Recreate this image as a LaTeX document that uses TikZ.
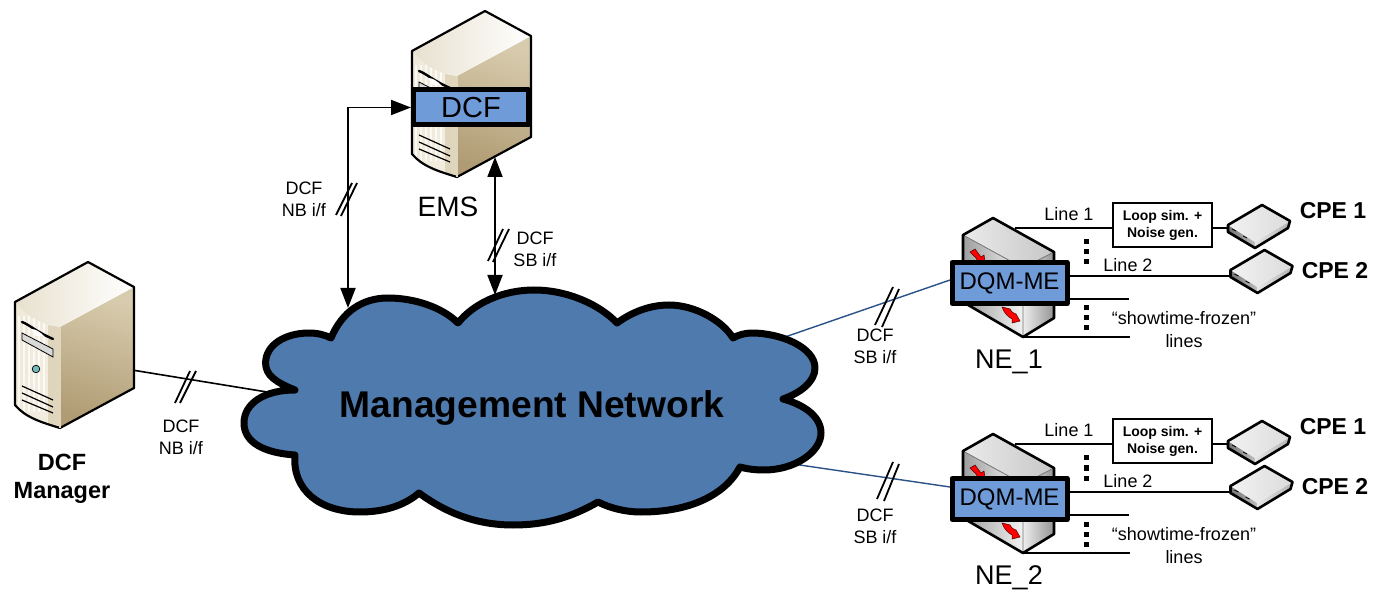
\documentclass[tikz,border=0pt]{standalone}
\usepackage{fontspec}
\setmainfont{Liberation Sans}
\usetikzlibrary{arrows.meta}
\definecolor{cloudblue}{HTML}{4F7AAE}
\definecolor{boxblue}{HTML}{6F9BD9}
\definecolor{linkblue}{HTML}{2B5288}
\definecolor{tanA}{HTML}{D8CCAE}
\definecolor{tanB}{HTML}{EFE9D9}
\definecolor{tanC}{HTML}{B09C74}
\definecolor{tanD}{HTML}{F3EEE2}
\tikzset{
  x=1pt,y=-1pt,
  outline/.style={draw=black,line width=2.2pt,line join=round},
  link/.style={draw=black,line width=1.6pt},
  bluelink/.style={draw=linkblue,line width=1.4pt},
  dbl/.style={draw=black,line width=1.8pt,arrows={Triangle[length=20pt,width=15pt]-Triangle[length=20pt,width=15pt]}},
  slash/.style={draw=black,line width=1.8pt},
  dcfbox/.style={draw=black,fill=boxblue,line width=5pt,line join=round,inner sep=0pt,anchor=center},
  lbl/.style={inner sep=0pt,align=center,font=\fontsize{18}{22}\selectfont},
  bigl/.style={inner sep=0pt,align=center,font=\fontsize{28}{30}\selectfont},
  nel/.style={inner sep=0pt,font=\fontsize{27}{30}\selectfont},
  cpel/.style={inner sep=0pt,font=\bfseries\fontsize{23}{26}\selectfont},
  pics/serverbox/.style={code={
    % right face
    \path[left color=tanA,middle color=tanB,right color=tanC,shading angle=-18] (60,327)--(134,287)--(134,388)--(60,428)--cycle;
    % left face
    \path[left color=tanB,right color=tanD] (15,302) .. controls (30,320) and (45,325) .. (60,327)--(60,428) .. controls (40,422) and (25,417) .. (15,405)--cycle;
    \foreach \sx in {19,24,29,34,39,44}{\draw[white,line width=1.2pt,opacity=.75] (\sx,316)--(\sx,412);}
    \path[fill=tanA,opacity=.7] (48,325)--(60,327)--(60,428)--(48,424)--cycle;
    % top face
    \path[left color=tanA!60!white,right color=white] (15,302)--(88,262)--(134,287)--(60,327) .. controls (45,325) and (30,320) .. (15,302)--cycle;
    % swoosh, bay, led, slots
    \draw[line width=2.4pt,line cap=round] (22,322) .. controls (30,325) and (35,331) .. (53,339);
    \path[fill=white!85!black,draw=black,line width=.8pt] (22,333)--(53,349)--(53,357)--(22,340)--cycle;
    \path[fill=white] (31,329) .. controls (36,329) and (40,332) .. (44,336)--(36,336)--cycle;
    \path[fill=teal!55!white,draw=black,line width=.7pt] (36,369) circle (3.8);
    \draw[line width=1.2pt] (22,386)--(53,400) (22,393)--(53,407) (22,400)--(53,413);
    % outlines
    \draw[outline] (15,302)--(88,262)--(134,287)--(134,388)--(60,428) .. controls (40,422) and (25,417) .. (15,405)--cycle;
    \draw[line width=1.1pt,draw=white!20!tanA] (60,327)--(60,428);
  }},
  pics/neshape/.style={code={
    \path[left color=black!38,right color=white!95!black] (963,235)--(1023,268)--(1023,337)--(963,302)--cycle;
    \path[left color=white!93!black,right color=black!42] (1023,268)--(1054,252)--(1054,318)--(1023,337)--cycle;
    \path[left color=black!8,right color=black!22] (963,235)--(993,218)--(1054,252)--(1023,268)--cycle;
    \draw[black!55,line width=.8pt] (963,235)--(1023,268)--(1054,252) (1023,268)--(1023,337);
    \draw[outline,line width=2.6pt] (963,235)--(993,218)--(1054,252)--(1054,318)--(1023,337)--(963,302)--cycle;
    \path[fill=red,draw=black!70!red,line width=.5pt] (970,252)--(975,249)--(981,257)--(984,255)--(985,262)--(976,262)--(977,259)--cycle;
    \path[fill=red,draw=black!70!red,line width=.5pt] (1002,307)--(1010,309) .. controls (1012,313) and (1014,313) .. (1016,314)--(1020,321)--(1012,323)--(1012,319) .. controls (1008,317) and (1004,313) .. (1002,307)--cycle;
  }},
  pics/cpebox/.style={code={
    \path[left color=black!55,right color=black!25] (1228,225)--(1255,242)--(1255,248)--(1228,232)--cycle;
    \path[left color=black!10,right color=black!30] (1255,242)--(1290,221)--(1288,228)--(1255,248)--cycle;
    \path[left color=black!5,right color=black!14] (1228,225)--(1262,205)--(1290,221)--(1255,242)--cycle;
    \draw[black,line width=.8pt] (1232,229)--(1236,231) (1243,236)--(1247,238);
    \draw[outline,line width=2.6pt] (1228,225)--(1262,205)--(1290,221)--(1288,228)--(1255,248)--(1228,232)--cycle;
  }},
}
\newcommand{\vdotsq}[2]{\foreach \yy in {0,10,20}{\path[fill=black] (#1-2.5,#2+\yy-2.5) rectangle (#1+2.5,#2+\yy+2.5);}}
\begin{document}
\begin{tikzpicture}
\useasboundingbox (0,0) rectangle (1390,593);
\path[fill=white] (0,0) rectangle (1390,593);

% anchors
\coordinate (mgrport) at (132,370);
\coordinate (cloudW) at (267,392);
\coordinate (cloudNW) at (348,308);
\coordinate (cloudN) at (495,295);
\coordinate (cloudNE) at (785,337);
\coordinate (cloudSE) at (793,464);
\coordinate (emsS) at (495,157);

% connectors under shapes
\draw[link] (mgrport) -- (cloudW);
\draw[bluelink] (cloudNE) -- (950,280);
\draw[bluelink] (cloudSE) -- (950,487);

% cloud
\path[fill=cloudblue,draw=black,line width=7pt,line join=round]
 (331,338) .. controls (342,312) and (362,298) .. (388,298)
 .. controls (414,298) and (442,307) .. (458,323)
 .. controls (474,303) and (503,290) .. (534,290)
 .. controls (568,290) and (600,305) .. (617,323)
 .. controls (632,312) and (650,305) .. (669,305)
 .. controls (694,305) and (722,320) .. (733,338)
 .. controls (738,335) and (745,333) .. (752,333)
 .. controls (780,333) and (815,347) .. (815,368)
 .. controls (815,382) and (800,393) .. (783,399)
 .. controls (805,405) and (821,417) .. (821,433)
 .. controls (821,452) and (795,470) .. (764,470)
 .. controls (755,470) and (747,469) .. (740,467)
 .. controls (725,495) and (690,512) .. (641,512)
 .. controls (625,512) and (610,508) .. (598,502)
 .. controls (570,518) and (545,525) .. (513,525)
 .. controls (475,525) and (445,512) .. (419,493)
 .. controls (405,505) and (385,512) .. (360,512)
 .. controls (320,512) and (292,490) .. (295,455)
 .. controls (265,453) and (244,443) .. (244,423)
 .. controls (244,403) and (265,390) .. (295,390)
 .. controls (275,382) and (265.6,375) .. (265.6,363)
 .. controls (265.6,345) and (285,333) .. (309,333)
 .. controls (318,333) and (325,335) .. (331,338) -- cycle;
\node[inner sep=0pt,font=\bfseries\fontsize{37.2}{40}\selectfont] (cloudlabel) at (532,408) {Management Network};

% servers
\pic at (0,0) {serverbox};
\pic at (397,-251) {serverbox};
\node[dcfbox,minimum width=115pt,minimum height=35pt,font=\fontsize{29}{32}\selectfont] (dcf) at (471,107.5) {DCF};

% EMS connectors
\coordinate (bend) at (348,107.5);
\draw[dbl] (dcf.west) -- (bend) -- (cloudNW);
\draw[dbl] (emsS) -- (cloudN);

% slashes
\draw[slash] (175,403)--(190,371) (180,403)--(196,371);
\draw[slash] (336,215)--(352,183) (341,216)--(357,183);
\draw[slash] (488,261)--(503,229) (493,262)--(509,229);
\draw[slash] (875,325)--(893,287) (882,327)--(899,289);
\draw[slash] (877,499)--(893,462) (884,501)--(899,464);

% labels
\node[lbl] (l1) at (181,437) {DCF\\NB i/f};
\node[lbl] (l2) at (304,199) {DCF\\NB i/f};
\node[lbl] (l3) at (535,249) {DCF\\SB i/f};
\node[lbl] (l4) at (875,346) {DCF\\SB i/f};
\node[lbl] (l5) at (875,526) {DCF\\SB i/f};
\node[bigl] (ems) at (448,207) {EMS};
\node[inner sep=0pt,align=center,font=\bfseries\fontsize{23.5}{28}\selectfont] (mgr) at (62,479) {DCF\\Manager};

% NE groups
\foreach \dy/\ne in {0/1,216/2}{
\begin{scope}[shift={(0,\dy)}]
  \draw[link] (1015,228) -- (1113,228);
  \draw[link] (1212,228) -- (1228,228);
  \draw[link] (1065,276) -- (1231,276);
  \draw[link] (1065,299) -- (1129,299);
  \draw[link] (1023,337) -- (1130,337);
  \pic at (0,0) {neshape};
  \pic at (0,0) {cpebox};
  \pic at (2.5,45) {cpebox};
  \node[dcfbox,minimum width=115pt,minimum height=41pt,font=\fontsize{24}{28}\selectfont] (dqm\ne) at (1009.5,283) {DQM-ME};
  \node[draw=black,line width=1.3pt,fill=white,minimum width=99pt,minimum height=44pt,inner sep=0pt,align=center,font=\bfseries\fontsize{14}{17}\selectfont] (loop\ne) at (1162.5,225) {Loop sim. +\\Noise gen.};
  \vdotsq{1086}{242}
  \vdotsq{1086}{308}
  \node[lbl] (la\ne) at (1069,214) {Line 1};
  \node[lbl] (lb\ne) at (1128,265) {Line 2};
  \node[lbl,font=\fontsize{18}{23}\selectfont] (frozen\ne) at (1184,329.5) {“showtime-frozen”\\lines};
  \node[cpel] (cpea\ne) at (1333,211) {CPE 1};
  \node[cpel] (cpeb\ne) at (1335,271) {CPE 2};
  \node[nel] (ne\ne) at (1009,362) {NE\_\ne};
\end{scope}
}
\end{tikzpicture}
\end{document}
